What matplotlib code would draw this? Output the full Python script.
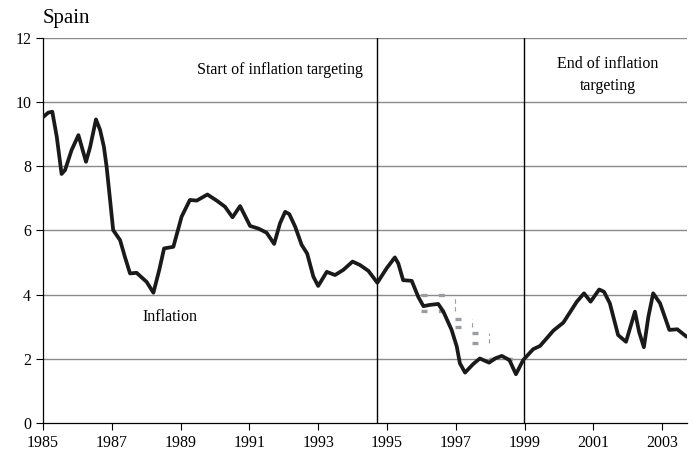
import matplotlib.pyplot as plt

plt.rcParams['font.family'] = ['Liberation Serif', 'DejaVu Serif']

# Inflation, Spain
years = [1985.01, 1985.15, 1985.27, 1985.40, 1985.54, 1985.64, 1985.83, 1986.03,
         1986.25, 1986.37, 1986.54, 1986.66, 1986.77, 1986.85, 1986.95, 1987.04,
         1987.24, 1987.38, 1987.53, 1987.72, 1988.01, 1988.21, 1988.38, 1988.52,
         1988.79, 1989.03, 1989.27, 1989.47, 1989.78, 1990.05, 1990.29, 1990.51,
         1990.73, 1991.02, 1991.26, 1991.50, 1991.72, 1991.89, 1992.04, 1992.16,
         1992.33, 1992.52, 1992.68, 1992.86, 1993.00, 1993.25, 1993.49, 1993.73,
         1994.00, 1994.22, 1994.46, 1994.72, 1994.99, 1995.23, 1995.33, 1995.47,
         1995.72, 1995.91, 1996.06, 1996.25, 1996.49, 1996.64, 1996.88, 1997.03,
         1997.12, 1997.27, 1997.51, 1997.70, 1997.97, 1998.14, 1998.34, 1998.56,
         1998.75, 1998.96, 1999.25, 1999.45, 1999.84, 2000.13, 2000.52, 2000.73,
         2000.92, 2001.17, 2001.31, 2001.48, 2001.72, 2001.95, 2002.21, 2002.33,
         2002.47, 2002.60, 2002.74, 2002.94, 2003.21, 2003.44, 2003.71]
inflation = [9.54, 9.67, 9.70, 8.92, 7.76, 7.88, 8.50, 8.97,
             8.14, 8.60, 9.46, 9.13, 8.61, 7.98, 6.95, 6.01,
             5.70, 5.18, 4.66, 4.68, 4.40, 4.06, 4.77, 5.44,
             5.49, 6.43, 6.95, 6.93, 7.12, 6.93, 6.74, 6.41,
             6.76, 6.14, 6.06, 5.93, 5.58, 6.22, 6.58, 6.51,
             6.12, 5.55, 5.28, 4.56, 4.27, 4.71, 4.61, 4.77,
             5.03, 4.92, 4.74, 4.37, 4.82, 5.16, 4.97, 4.45,
             4.43, 3.93, 3.64, 3.68, 3.71, 3.47, 2.90, 2.38,
             1.86, 1.57, 1.84, 2.01, 1.88, 2.01, 2.09, 1.96,
             1.52, 1.96, 2.30, 2.40, 2.88, 3.13, 3.78, 4.04,
             3.78, 4.16, 4.09, 3.73, 2.74, 2.53, 3.47, 2.84,
             2.36, 3.31, 4.04, 3.73, 2.90, 2.92, 2.69]

# Inflation target bands
target_start = [1996.0, 1996.98, 1997.48, 1997.97]
target_end = [1996.98, 1997.48, 1997.97, 1998.7]
target_low = [3.5, 3.0, 2.5, 2.0]
target_high = [4.0, 3.25, 2.8, 2.0]

regime_lines = [1994.72, 1998.98]
xticks = list(range(1985, 2004, 2))
yticks = list(range(0, 13, 2))

fig = plt.figure(figsize=(6.97, 4.68), dpi=100)
ax = fig.add_axes([0.0617, 0.0962, 0.9233, 0.8228])

for y in yticks[1:]:
    ax.axhline(y, color='#8a8a8a', lw=1.0, zorder=1)

gray = '#9a9ea2'
for x0, x1, lo, hi in zip(target_start, target_end, target_low, target_high):
    ax.hlines([hi, lo], x0, x1, colors=gray, lw=2.4, linestyles=[(0, (1.8, 3.4))], zorder=2)
    if hi != lo:
        ax.vlines(x1, lo, hi, colors=gray, lw=0.8, linestyles=[(0, (4, 3))], zorder=2)

for x in regime_lines:
    ax.axvline(x, color='black', lw=1.0, zorder=2)

ax.plot(years, inflation, color='#1a1a1a', lw=2.7, solid_joinstyle='round',
        solid_capstyle='round', zorder=3)

ax.set_xlim(1985, 2003.71)
ax.set_ylim(0, 12)
ax.set_xticks(xticks)
ax.set_yticks(yticks)
ax.tick_params(axis='both', direction='out', length=5, width=0.8, labelsize=11.5)
ax.tick_params(axis='x', pad=4)
for s in ['top', 'right']:
    ax.spines[s].set_visible(False)
for s in ['left', 'bottom']:
    ax.spines[s].set_linewidth(0.9)

ax.text(1991.89, 11.0, 'Start of inflation targeting', ha='center', va='center', fontsize=11.5)
ax.text(2001.42, 10.84, 'End of inflation\ntargeting', ha='center', va='center',
        fontsize=11.5, linespacing=1.5)
ax.text(1988.69, 3.3, 'Inflation', ha='center', va='center', fontsize=11.5)
fig.text(43 / 697, 1 - 18 / 468, 'Spain', ha='left', va='center', fontsize=15)

fig.savefig('out.png', dpi=100)
